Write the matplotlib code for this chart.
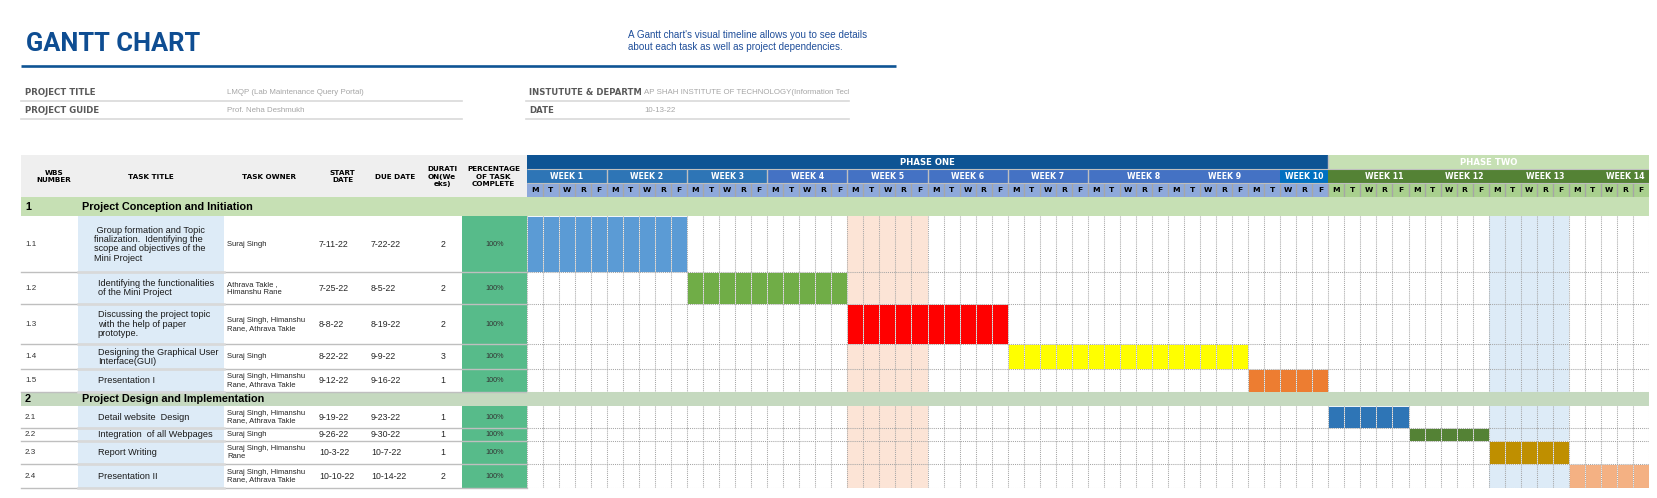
import numpy as np
import matplotlib
matplotlib.use("Agg")
import matplotlib.pyplot as plt
from matplotlib.patches import Rectangle
from matplotlib.transforms import Bbox, TransformedBbox

# ---------------- data ----------------
TITLE = "GANTT CHART"
SUBTITLE = ("A Gantt chart's visual timeline allows you to see details\n"
            "about each task as well as project dependencies.")
INFO_LEFT_LABELS = ["PROJECT TITLE", "PROJECT GUIDE"]
INFO_LEFT_VALUES = ["LMQP (Lab Maintenance Query Portal)", "Prof. Neha Deshmukh"]
INFO_RIGHT_LABELS = ["INSTUTUTE & DEPARTM", "DATE"]
INFO_RIGHT_VALUES = ["AP SHAH INSTITUTE OF TECHNOLOGY(Information Technology)", "10-13-22"]

HEADERS = ["WBS\nNUMBER", "TASK TITLE", "TASK OWNER", "START\nDATE", "DUE DATE",
           "DURATI\nON(We\neks)", "PERCENTAGE\nOF TASK\nCOMPLETE"]

SECTION_IDS = ["1", "2"]
SECTION_TITLES = ["Project Conception and Initiation", "Project Design and Implementation"]
SECTION_OF_TASK = [0, 0, 0, 0, 0, 1, 1, 1, 1]

WBS = ["1.1", "1.2", "1.3", "1.4", "1.5", "2.1", "2.2", "2.3", "2.4"]
TASKS = [" Group formation and Topic\nfinalization.  Identifying the\nscope and objectives of the\nMini Project",
         "Identifying the functionalities\nof the Mini Project",
         "Discussing the project topic\nwith the help of paper\nprototype.",
         "Designing the Graphical User\nInterface(GUI)",
         "Presentation I",
         "Detail website  Design",
         "Integration  of all Webpages",
         "Report Writing",
         "Presentation II"]
OWNERS = ["Suraj Singh",
          "Athrava Takle ,\nHimanshu Rane",
          "Suraj Singh, Himanshu\nRane, Athrava Takle",
          "Suraj Singh",
          "Suraj Singh, Himanshu\nRane, Athrava Takle",
          "Suraj Singh, Himanshu\nRane, Athrava Takle",
          "Suraj Singh",
          "Suraj Singh, Himanshu\nRane",
          "Suraj Singh, Himanshu\nRane, Athrava Takle"]
START = ["7-11-22", "7-25-22", "8-8-22", "8-22-22", "9-12-22", "9-19-22", "9-26-22", "10-3-22", "10-10-22"]
DUE = ["7-22-22", "8-5-22", "8-19-22", "9-9-22", "9-16-22", "9-23-22", "9-30-22", "10-7-22", "10-14-22"]
DURATION_WEEKS = [2, 2, 2, 3, 1, 1, 1, 1, 2]
PCT_COMPLETE = [100, 100, 100, 100, 100, 100, 100, 100, 100]

PROJECT_START = "2022-07-11"
PHASES = ["PHASE ONE", "PHASE TWO"]
PHASE_WEEKS = [10, 4]
WEEK_LABELS = ["WEEK 1", "WEEK 2", "WEEK 3", "WEEK 4", "WEEK 5", "WEEK 6", "WEEK 7",
               "WEEK 8", "WEEK 9", "WEEK 10", "WEEK 11", "WEEK 12", "WEEK 13", "WEEK 14"]
DAY_LETTERS = ["M", "T", "W", "R", "F"]
HIGHLIGHT_WEEKS = [5, 13]

# ---------------- style / layout ----------------
W, H = 1657, 498
BAR_COLORS = ["#5B9BD5", "#70AD47", "#FF0000", "#FFFF00", "#ED7D31",
              "#2E75B6", "#548235", "#BF8F00", "#F4B183"]
HIGHLIGHT_COLORS = ["#FCE4D6", "#DDEBF7"]
SECTION_COLORS = ["#C6E0B4", "#C5D9BF"]
PHASE_COLORS = ["#0E5494", "#C6E0B4"]
DAY_COLORS = ["#8EA9DB", "#A9D08E"]
WEEK_COLORS = ["#2E75B6"] * 3 + ["#4472C4"] * 7 + ["#548235"] * 4
WEEK10_TAIL_COLOR = "#0070C0"
TITLE_BLUE = "#0E4D92"
LINE_BLUE = "#0E5494"
BODY = "Liberation Sans"
BOLD = "DejaVu Sans"

GX0, GX1 = 526.7, 1649.0          # gantt area in page pixels
HEAD_TOP, TABLE_TOP = 155.0, 197.3
SECTION_ROW_H = [18.7, 13.4]
TASK_ROW_H = [56.3, 32, 40, 25, 23, 22.6, 12.7, 23.3, 23.4]
TX0 = 21.0
TITLE_COL = (78.4, 223.8)
PCT_COL = (461.5, GX0)
HEADER_X = [54, 150.4, 268.8, 342.5, 395.5, 442, 493.6]


def to_date(s):
    m, d, y = s.split("-")
    return np.datetime64(f"20{y}-{int(m):02d}-{int(d):02d}")


start_day = np.busday_count(PROJECT_START, [to_date(s) for s in START])
end_day = np.busday_count(PROJECT_START, [to_date(s) for s in DUE]) + 1
N_DAYS = sum(PHASE_WEEKS) * 5

# row layout
rows = []   # (kind, index, top, bottom)
y = TABLE_TOP
for s in range(len(SECTION_TITLES)):
    rows.append(("S", s, y, y + SECTION_ROW_H[s]))
    y += SECTION_ROW_H[s]
    for t in [i for i, sec in enumerate(SECTION_OF_TASK) if sec == s]:
        rows.append(("T", t, y, y + TASK_ROW_H[t]))
        y += TASK_ROW_H[t]
TABLE_BOTTOM = y

fig = plt.figure(figsize=(W / 100, H / 100), dpi=100)
ax = fig.add_axes([0, 0, 1, 1])
ax.set_xlim(0, W)
ax.set_ylim(H, 0)
ax.axis("off")


def axes_at(x0, x1, y0, y1):
    a = fig.add_axes([x0 / W, 1 - y1 / H, (x1 - x0) / W, (y1 - y0) / H])
    a.axis("off")
    return a


def clipped_text(x, y, s, cx0, cx1, **kw):
    t = ax.text(x, y, s, **kw)
    t.set_clip_on(True)
    t.set_clip_box(TransformedBbox(Bbox.from_extents(cx0, y - 9, cx1, y + 9), ax.transData))
    return t


# ---------------- title block ----------------
ax.text(25.5, 50.7, TITLE, family=["Roboto", "DejaVu Sans"], weight="bold", size=18.4,
        color=TITLE_BLUE, va="baseline", ha="left")
ax.text(627.5, 41, SUBTITLE, family=BODY, size=7.1, color="#1F4E9A", va="center",
        ha="left", linespacing=1.25)
ax.plot([21, 896], [65.5, 65.5], color=LINE_BLUE, lw=1.9, solid_capstyle="butt")

info_y = [92, 110]
line_y = [101, 119.3]
for i in range(2):
    ax.text(25, info_y[i], INFO_LEFT_LABELS[i], family=BOLD, weight="bold", size=6.2,
            color="#595959", va="center")
    ax.text(226.7, info_y[i], INFO_LEFT_VALUES[i], family=BODY, size=5.7,
            color="#A6A6A6", va="center")
    ax.plot([21, 461.7], [line_y[i]] * 2, color="#D9D9D9", lw=1.2)
    clipped_text(529, info_y[i], INFO_RIGHT_LABELS[i], 526, 641, family=BOLD,
                 weight="bold", size=6.1, color="#595959", va="center")
    clipped_text(644, info_y[i], INFO_RIGHT_VALUES[i], 641, 849, family=BODY, size=5.7,
                 color="#A6A6A6", va="center")
    ax.plot([526, 848.5], [line_y[i]] * 2, color="#D9D9D9", lw=1.2)

# ---------------- left table ----------------
ax.add_patch(Rectangle((TX0, HEAD_TOP), GX0 - TX0, TABLE_TOP - HEAD_TOP,
                       facecolor="#EFEFEF", edgecolor="none"))
for hx, label in zip(HEADER_X, HEADERS):
    ax.text(hx, (HEAD_TOP + TABLE_TOP) / 2 + 0.5, label, family=BOLD, weight="bold", size=5.2,
            color="black", ha="center", va="center", linespacing=1.25)

for kind, idx, top, bot in rows:
    mid = (top + bot) / 2
    if kind == "S":
        ax.add_patch(Rectangle((TX0, top), GX0 - TX0, bot - top,
                               facecolor=SECTION_COLORS[idx], edgecolor="none"))
        ax.text(25, mid, SECTION_IDS[idx], family=BODY, weight="bold", size=7.8,
                color="black", va="center")
        ax.text(82, mid, SECTION_TITLES[idx], family=BODY, weight="bold", size=7.8,
                color="black", va="center")
        continue
    ax.add_patch(Rectangle((TITLE_COL[0], top), TITLE_COL[1] - TITLE_COL[0], bot - top,
                           facecolor="#DDEBF7", edgecolor="none"))
    ax.add_patch(Rectangle((PCT_COL[0], top), PCT_COL[1] - PCT_COL[0], bot - top,
                           facecolor="#57BB8A", edgecolor="none"))
    ax.plot([TX0, GX0], [bot, bot], color="#BFBFBF", lw=1.0)
    ax.plot([TITLE_COL[0], TITLE_COL[1]], [bot, bot], color="#D9D9D9", lw=1.8)
    ax.text(25, mid, WBS[idx], family=BODY, size=5.8, color="#333333", va="center")
    ax.text(93.5 if idx == 0 else 97.7, mid, TASKS[idx], family=BODY, size=6.6,
            color="#1A1A1A", va="center", linespacing=1.05)
    ax.text(227, mid, OWNERS[idx], family=BODY, size=5.5, color="#262626",
            va="center", linespacing=1.2)
    ax.text(319, mid, START[idx], family=BODY, size=6.3, color="#262626", va="center")
    ax.text(371, mid, DUE[idx], family=BODY, size=6.3, color="#262626", va="center")
    ax.text(443, mid, str(DURATION_WEEKS[idx]), family=BODY, size=6.3, color="#262626",
            va="center", ha="center")
    ax.text(494.5, mid, f"{PCT_COMPLETE[idx]}%", family=BODY, size=5.2, color="#333333",
            va="center", ha="center")

# ---------------- gantt header ----------------
ah = axes_at(GX0, GX1, HEAD_TOP, TABLE_TOP)
ah.set_xlim(0, N_DAYS)
ah.set_ylim(3, 0)
phase_left = np.cumsum([0] + PHASE_WEEKS[:-1]) * 5
ah.barh([0.5] * len(PHASES), np.array(PHASE_WEEKS) * 5, left=phase_left, height=1,
        color=PHASE_COLORS, edgecolor="none")
for i, p in enumerate(PHASES):
    ah.text(phase_left[i] + PHASE_WEEKS[i] * 2.5, 0.5, p, color="white", weight="bold",
            family=BOLD, size=6.1, ha="center", va="center")
week_left = np.arange(len(WEEK_LABELS)) * 5
ah.barh([1.5] * len(WEEK_LABELS), 5, left=week_left, height=1, color=WEEK_COLORS,
        edgecolor="none")
ah.barh([1.5], 3, left=[47], height=1, color=WEEK10_TAIL_COLOR, edgecolor="none")
for i, lab in enumerate(WEEK_LABELS):
    if i == 9:
        xc = 48.5
    elif i in (7, 8) or i >= 10:
        xc = week_left[i] + 3.5
    else:
        xc = week_left[i] + 2.5
    ah.text(xc, 1.5, lab, color="white", weight="bold", family=BOLD, size=5.6,
            ha="center", va="center")
ah.vlines(week_left[1:8], 1, 2, color="#BFBFBF", lw=1.0)
ah.vlines([50], 0, 1, color="#BFBFBF", lw=1.0)
days = np.arange(N_DAYS)
day_cols = [DAY_COLORS[0] if d < PHASE_WEEKS[0] * 5 else DAY_COLORS[1] for d in days]
ah.barh([2.5] * N_DAYS, 1, left=days, height=1, color=day_cols, edgecolor="none")
for d in days:
    ah.text(d + 0.5, 2.5, DAY_LETTERS[d % 5], color="black", weight="bold", family=BOLD,
            size=5.4, ha="center", va="center")
ah.vlines(days[1:], 2, 3, color="#A6A6A6", lw=1.0)
ah.hlines([1, 2], 0, N_DAYS, color="#BFBFBF", lw=0.8)

# ---------------- gantt body ----------------
ag = axes_at(GX0, GX1, TABLE_TOP, TABLE_BOTTOM)
ag.set_xlim(0, N_DAYS)
ag.set_ylim(TABLE_BOTTOM, TABLE_TOP)
for w, c in zip(HIGHLIGHT_WEEKS, HIGHLIGHT_COLORS):
    ag.axvspan((w - 1) * 5, w * 5, color=c, lw=0, zorder=1)
for kind, idx, top, bot in rows:
    if kind != "T":
        continue
    n = end_day[idx] - start_day[idx]
    ag.barh([(top + bot) / 2] * n, 1, left=np.arange(start_day[idx], end_day[idx]),
            height=bot - top, color=BAR_COLORS[idx], edgecolor="white", lw=0.6, zorder=2)
    ag.vlines(np.arange(0, N_DAYS + 1), top, bot, colors="#A6A6A6", lw=0.75,
              linestyles=(0, (1, 1)), zorder=3)
    ag.hlines([bot], 0, N_DAYS, colors="#A6A6A6", lw=0.75, linestyles=(0, (1, 1)), zorder=3)
for kind, idx, top, bot in rows:
    if kind == "S":
        ag.barh([(top + bot) / 2], N_DAYS, left=0, height=bot - top,
                color=SECTION_COLORS[idx], edgecolor="none", zorder=4)

fig.savefig("out.png", dpi=100)
